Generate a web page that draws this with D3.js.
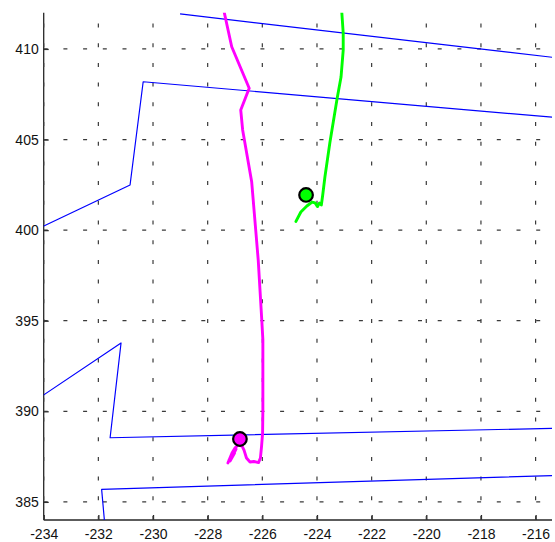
<!DOCTYPE html>
<html>
<head>
<meta charset="utf-8">
<script src="https://cdn.jsdelivr.net/npm/d3@7"></script>
<style>
  html, body { margin: 0; padding: 0; background: #fff; }
  svg { display: block; }
  .tick text { font-family: "Liberation Sans", Arial, sans-serif; font-size: 14px; fill: #111; }
</style>
</head>
<body>
<div id="chart"></div>
<script>
// ---- data ----
const xTicks = [-234, -232, -230, -228, -226, -224, -222, -220, -218, -216];
const yTicks = [385, 390, 395, 400, 405, 410];
const xDomain = [-234, -215.4];
const yDomain = [384, 412];

// blue survey track (thin)
const blueX = [-229.01, -215.0, -215.0, -230.36, -230.84, -234.5, -234.5, -231.17, -231.57, -215.0, -215.0, -231.88, -231.75];
const blueY = [411.93, 409.47, 406.18, 408.19, 402.49, 399.87, 390.40, 393.77, 388.54, 389.07, 386.47, 385.69, 383.5];

// green track
const greenX = [-223.10, -223.04, -223.04, -223.12, -223.26, -223.38, -223.53, -223.71, -223.79, -223.84, -223.91, -223.98, -224.07, -224.18, -224.37, -224.59, -224.77];
const greenY = [412.20, 410.88, 409.94, 408.45, 407.29, 406.19, 404.81, 402.93, 401.94, 401.39, 401.50, 401.30, 401.50, 401.55, 401.33, 401.00, 400.48];
const greenStart = [-224.40, 401.94];

// magenta track
const magentaX = [-227.42, -227.12, -226.48, -226.79, -226.72, -226.39, -226.15, -226.02, -225.98, -225.98, -225.99, -226.03, -226.07, -226.14, -226.31, -226.45, -226.58, -226.67, -226.74, -226.89, -227.00, -227.11, -227.20, -227.26, -227.15, -227.04, -226.96, -227.07, -227.18, -227.02, -227.22];
const magentaY = [412.20, 410.12, 407.83, 406.63, 405.53, 402.67, 398.35, 395.04, 393.94, 390.07, 388.80, 388.03, 387.42, 387.17, 387.23, 387.20, 387.42, 387.86, 388.08, 388.14, 387.97, 387.70, 387.37, 387.15, 387.48, 387.75, 387.91, 387.59, 387.26, 387.68, 387.30];
const magentaStart = [-226.82, 388.47];

// ---- layout ----
const W = 555, H = 542;
const mLeft = 43.7, mRight = 552, mTop = 12.7, mBottom = 520;

const svg = d3.select("#chart").append("svg").attr("width", W).attr("height", H);

const x = d3.scaleLinear().domain(xDomain).range([mLeft, mRight]);
const y = d3.scaleLinear().domain(yDomain).range([mBottom, mTop]);
const fmt = d => String(d);

// axes
const gx = svg.append("g").attr("transform", `translate(0,${mBottom})`)
  .call(d3.axisBottom(x).tickValues(xTicks).tickFormat(fmt).tickSizeInner(-5).tickSizeOuter(0).tickPadding(9));
const gy = svg.append("g").attr("transform", `translate(${mLeft},0)`)
  .call(d3.axisLeft(y).tickValues(yTicks).tickFormat(fmt).tickSizeInner(-5).tickSizeOuter(0).tickPadding(5));
[gx, gy].forEach(g => {
  g.select(".domain").attr("stroke", "#262626").attr("stroke-width", 1.3);
  g.selectAll(".tick line").attr("stroke", "#262626").attr("stroke-width", 1.3);
});
gx.select(".domain").attr("d", `M${mLeft},0H${mRight}`);
gy.select(".domain").attr("d", `M0,${mBottom}V${mTop}`);

// grid
const grid = svg.append("g").attr("stroke", "#3a3a3a").attr("stroke-width", 1.2).attr("stroke-dasharray", "4,15.7").attr("fill", "none");
grid.selectAll("line.v").data(xTicks).join("line").attr("class", "v")
  .attr("x1", d => x(d)).attr("x2", d => x(d)).attr("y1", mBottom).attr("y2", mTop);
grid.selectAll("line.h").data(yTicks).join("line").attr("class", "h")
  .attr("x1", mLeft).attr("x2", mRight).attr("y1", d => y(d)).attr("y2", d => y(d));

// clip
svg.append("clipPath").attr("id", "plot").append("rect")
  .attr("x", mLeft).attr("y", mTop).attr("width", mRight - mLeft).attr("height", mBottom - mTop);

const plot = svg.append("g").attr("clip-path", "url(#plot)");
const line = d3.line().x(d => x(d[0])).y(d => y(d[1]));

plot.append("path").datum(d3.zip(blueX, blueY)).attr("d", line)
  .attr("fill", "none").attr("stroke", "#0000ff").attr("stroke-width", 1.2).attr("stroke-linejoin", "round");
plot.append("path").datum(d3.zip(magentaX, magentaY)).attr("d", line)
  .attr("fill", "none").attr("stroke", "#ff00ff").attr("stroke-width", 2.9).attr("stroke-linejoin", "round").attr("stroke-linecap", "round");
plot.append("path").datum(d3.zip(greenX, greenY)).attr("d", line)
  .attr("fill", "none").attr("stroke", "#00ff00").attr("stroke-width", 2.9).attr("stroke-linejoin", "round").attr("stroke-linecap", "round");

const starts = [
  { p: greenStart, c: "#00ff00" },
  { p: magentaStart, c: "#ff00ff" }
];
plot.selectAll("circle").data(starts).join("circle")
  .attr("cx", d => x(d.p[0])).attr("cy", d => y(d.p[1])).attr("r", 6.8)
  .attr("fill", d => d.c).attr("stroke", "#000").attr("stroke-width", 2.2);
</script>
</body>
</html>
